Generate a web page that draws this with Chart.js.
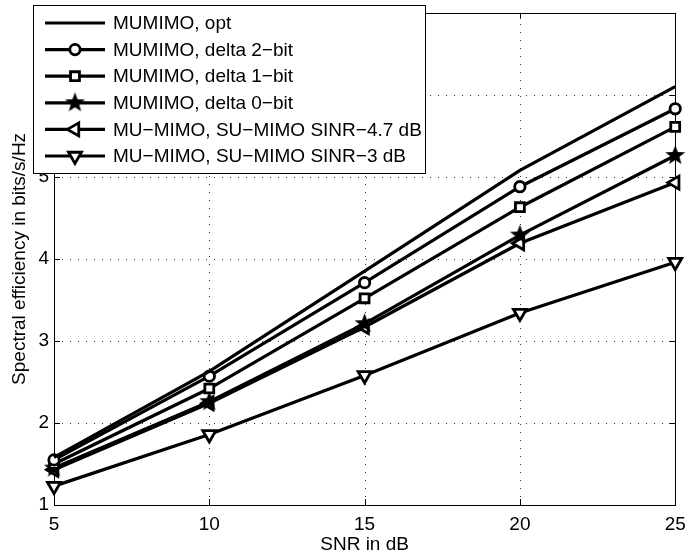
<!DOCTYPE html>
<html>
<head>
<meta charset="utf-8">
<script src="https://cdn.jsdelivr.net/npm/chart.js@4/dist/chart.umd.min.js"></script>
<style>
  html, body { margin: 0; padding: 0; background: #fff; }
  #wrap { width: 688px; height: 556px; overflow: hidden; }
</style>
</head>
<body>
<div id="wrap"><canvas id="chart1" width="688" height="556"></canvas></div>
<script>
'use strict';

// SNR points (dB)
const snr = [5, 10, 15, 20, 25];

// spectral efficiency, bits/s/Hz
const mumimoOpt    = [1.58, 2.63, 3.85, 5.08, 6.10];
const delta2bit    = [1.55, 2.57, 3.71, 4.88, 5.83];
const delta1bit    = [1.50, 2.42, 3.52, 4.63, 5.61];
const delta0bit    = [1.45, 2.26, 3.21, 4.29, 5.26];
const sinrMinus47  = [1.43, 2.24, 3.17, 4.19, 4.93];
const sinrMinus3   = [1.23, 1.86, 2.58, 3.34, 3.96];

const seriesNames = [
    'MUMIMO, opt',
    'MUMIMO, delta 2\u2212bit',
    'MUMIMO, delta 1\u2212bit',
    'MUMIMO, delta 0\u2212bit',
    'MU\u2212MIMO, SU\u2212MIMO SINR\u22124.7 dB',
    'MU\u2212MIMO, SU\u2212MIMO SINR\u22123 dB'
];

const xTicks = [5, 10, 15, 20, 25];
const yTicks = [1, 2, 3, 4, 5, 6, 7];

const FONT = '"Liberation Sans", Arial, Helvetica, sans-serif';

// filled five point star used as a marker
function starImage(size) {
    const c = document.createElement('canvas');
    c.width = c.height = size;
    const g = c.getContext('2d');
    const cx = size / 2, R = size / 2, r = R * 0.42;
    g.beginPath();
    for (let i = 0; i < 10; i++) {
        const a = -Math.PI / 2 + i * Math.PI / 5;
        const rad = i % 2 ? r : R;
        g.lineTo(cx + rad * Math.cos(a), cx + rad * Math.sin(a));
    }
    g.closePath();
    g.fillStyle = '#000';
    g.fill();
    return c;
}

const markers = [
    { pointStyle: false, radius: 0, rotation: 0 },
    { pointStyle: 'circle', radius: 5.2, rotation: 0 },
    { pointStyle: 'rect', radius: 6.3, rotation: 0 },
    { pointStyle: starImage(21), radius: 10, rotation: 0 },
    { pointStyle: 'triangle', radius: 7.5, rotation: -90 },
    { pointStyle: 'triangle', radius: 7.5, rotation: 180 }
];

const values = [mumimoOpt, delta2bit, delta1bit, delta0bit, sinrMinus47, sinrMinus3];

const datasets = values.map(function (v, i) {
    return {
        label: seriesNames[i],
        data: snr.map(function (x, k) { return { x: x, y: v[k] }; }),
        borderColor: '#000',
        backgroundColor: '#fff',
        borderWidth: 3.2,
        tension: 0,
        clip: false,
        pointStyle: markers[i].pointStyle,
        pointRadius: markers[i].radius,
        pointRotation: markers[i].rotation,
        pointBorderWidth: 2.8,
        pointBorderColor: '#000',
        pointBackgroundColor: '#fff'
    };
});

// dotted grid, box around the axes and small inward ticks on all four sides
const frame = {
    id: 'frame',
    beforeDatasetsDraw(chart) {
        const a = chart.chartArea, ctx = chart.ctx;
        const xs = chart.scales.x, ys = chart.scales.y;
        ctx.save();
        ctx.strokeStyle = 'rgba(0,0,0,0.8)';
        ctx.lineWidth = 1;
        ctx.setLineDash([1, 7]);
        ctx.beginPath();
        xTicks.forEach(function (t) {
            const px = Math.round(xs.getPixelForValue(t)) + 0.5;
            ctx.moveTo(px, a.bottom); ctx.lineTo(px, a.top);
        });
        yTicks.forEach(function (t) {
            const py = Math.round(ys.getPixelForValue(t)) + 0.5;
            ctx.moveTo(a.left, py); ctx.lineTo(a.right, py);
        });
        ctx.stroke();
        ctx.setLineDash([]);
        ctx.strokeStyle = '#000';
        ctx.beginPath();
        xTicks.forEach(function (t) {
            const px = Math.round(xs.getPixelForValue(t)) + 0.5;
            ctx.moveTo(px, a.bottom); ctx.lineTo(px, a.bottom - 6);
            ctx.moveTo(px, a.top); ctx.lineTo(px, a.top + 6);
        });
        yTicks.forEach(function (t) {
            const py = Math.round(ys.getPixelForValue(t)) + 0.5;
            ctx.moveTo(a.left, py); ctx.lineTo(a.left + 6, py);
            ctx.moveTo(a.right, py); ctx.lineTo(a.right - 6, py);
        });
        ctx.stroke();
        ctx.strokeRect(Math.round(a.left) + 0.5, Math.round(a.top) + 0.5,
            Math.round(a.right - a.left), Math.round(a.bottom - a.top));
        ctx.restore();
    }
};

// legend box sitting over the top-left corner of the plot
const boxLegend = {
    id: 'boxLegend',
    afterDraw(chart) {
        const ctx = chart.ctx;
        ctx.save();
        ctx.fillStyle = '#fff';
        ctx.fillRect(33, 5, 392, 168);
        ctx.strokeStyle = '#000';
        ctx.lineWidth = 1;
        ctx.strokeRect(33.5, 5.5, 392, 168);
        ctx.font = '19px ' + FONT;
        ctx.textBaseline = 'middle';
        chart.data.datasets.forEach(function (ds, i) {
            const y = 23 + i * 26.6;
            ctx.strokeStyle = '#000';
            ctx.lineWidth = 3.2;
            ctx.beginPath();
            ctx.moveTo(45, y);
            ctx.lineTo(105, y);
            ctx.stroke();
            if (ds.pointStyle && Chart.helpers && Chart.helpers.drawPoint) {
                ctx.fillStyle = '#fff';
                ctx.lineWidth = ds.pointBorderWidth;
                Chart.helpers.drawPoint(ctx, {
                    pointStyle: ds.pointStyle,
                    rotation: ds.pointRotation,
                    radius: ds.pointRadius,
                    borderWidth: ds.pointBorderWidth
                }, 75, y);
            }
            ctx.fillStyle = '#000';
            ctx.fillText(ds.label, 113, y + 1);
        });
        ctx.restore();
    }
};

const gridOpts = { display: false, drawTicks: false };
const borderOpts = { display: false };

new Chart(document.getElementById('chart1'), {
    type: 'line',
    data: { datasets: datasets },
    options: {
        responsive: false,
        devicePixelRatio: 1,
        animation: false,
        layout: { padding: { left: 0, top: 12, right: 9, bottom: 0 } },
        plugins: { legend: { display: false }, tooltip: { enabled: false } },
        scales: {
            x: {
                type: 'linear',
                min: 5, max: 25,
                grid: gridOpts,
                border: borderOpts,
                afterBuildTicks(s) { s.ticks = xTicks.map(function (v) { return { value: v }; }); },
                afterFit(s) { s.height = 51; s.paddingLeft = 0; s.paddingRight = 0; },
                ticks: { color: '#000', padding: 8, maxRotation: 0, font: { family: FONT, size: 19 } },
                title: {
                    display: true, text: 'SNR in dB', color: '#000',
                    padding: 0, font: { family: FONT, size: 19 }
                }
            },
            y: {
                min: 1, max: 7,
                grid: gridOpts,
                border: borderOpts,
                afterBuildTicks(s) { s.ticks = yTicks.map(function (v) { return { value: v }; }); },
                afterFit(s) { s.width = 54; s.paddingTop = 0; s.paddingBottom = 0; },
                ticks: { color: '#000', padding: 5, font: { family: FONT, size: 19 } },
                title: {
                    display: true, text: 'Spectral efficiency in bits/s/Hz', color: '#000',
                    padding: { top: 8, bottom: 0 }, font: { family: FONT, size: 19 }
                }
            }
        }
    },
    plugins: [frame, boxLegend]
});
</script>
</body>
</html>
